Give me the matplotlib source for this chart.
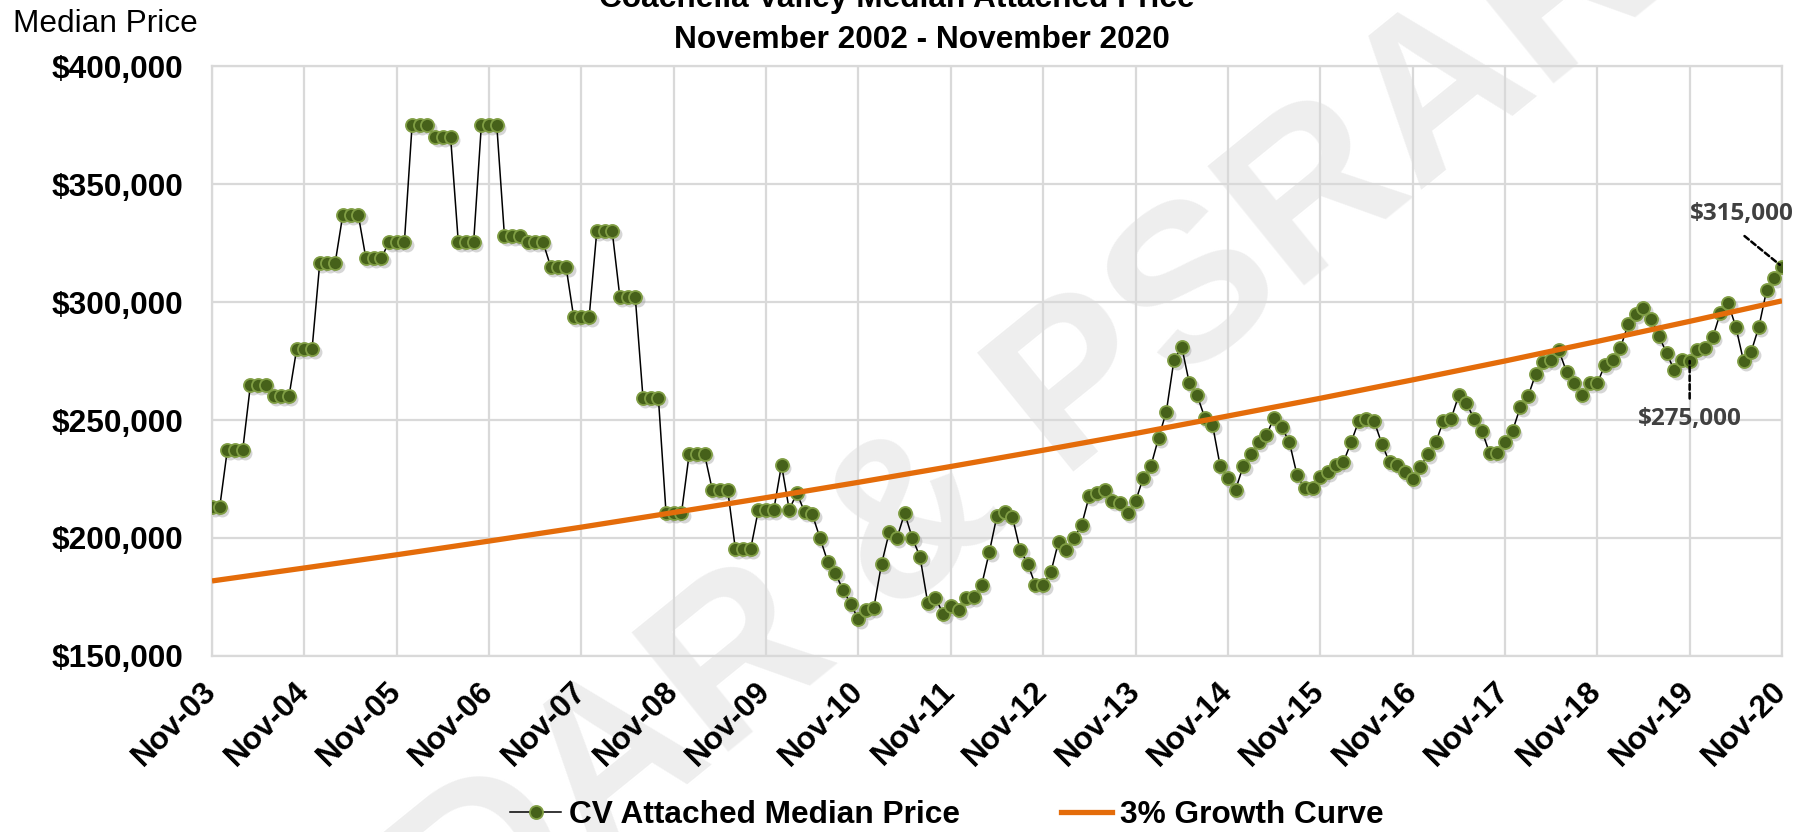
import numpy as np
import matplotlib
matplotlib.use("Agg")
import matplotlib.pyplot as plt
from matplotlib.transforms import offset_copy
from matplotlib.lines import Line2D

plt.rcParams['font.family'] = ['Liberation Sans', 'DejaVu Sans']

# ---------------- data ----------------
tick_labels = ['Nov-03', 'Nov-04', 'Nov-05', 'Nov-06', 'Nov-07', 'Nov-08',
               'Nov-09', 'Nov-10', 'Nov-11', 'Nov-12', 'Nov-13', 'Nov-14',
               'Nov-15', 'Nov-16', 'Nov-17', 'Nov-18', 'Nov-19', 'Nov-20']

# monthly median attached price, Nov-03 .. Nov-20
prices = [
    213000, 213000,
    237500, 237500, 237500,
    265000, 265000, 265000,
    260000, 260000, 260000,
    280000, 280000, 280000,
    316500, 316500, 316500,
    337000, 337000, 337000,
    318500, 318500, 318500,
    325500, 325500, 325500,
    375000, 375000, 375000,
    370000, 370000, 370000,
    325500, 325500, 325500,
    375000, 375000, 375000,
    328000, 328000, 328000,
    325500, 325500, 325500,
    315000, 315000, 315000,
    293500, 293500, 293500,
    330000, 330000, 330000,
    302000, 302000, 302000,
    259500, 259500, 259500,
    210500, 210500, 210500,
    235500, 235500, 235500,
    220500, 220500, 220500,
    195500, 195500, 195500,
    212000, 212000, 212000, 231000, 212000, 219000, 211000, 210000,
    200000, 190000, 185000, 178000, 172000, 165500, 169500, 170500,
    189000, 202500, 200000, 210500, 200000, 192000, 172500, 174500,
    168000, 171000, 169500, 174500, 175000, 180000, 194000, 209500,
    211000, 209000, 195000, 189000, 180000, 180000, 185500, 198500,
    195000, 200000, 205500, 218000, 219000, 220500, 215500, 215000,
    210500, 215500, 225500, 230500, 242500, 253500, 275500, 281000,
    265500, 260500, 251000, 248000, 230500, 225500, 220500, 230500,
    235500, 240500, 243500, 251000, 247000, 240500, 226500, 221000,
    221000, 226000, 228000, 231000, 232000, 240500, 249500, 250500,
    249500, 240000, 232000, 231000, 228000, 225000, 230000, 235500,
    240500, 249500, 250500, 260500, 257000, 250500, 245500, 236000,
    236000, 240500, 245500, 255500, 260000, 269500, 274500, 275500,
    279500, 270500, 265500, 260500, 265500, 265500, 273500, 275500,
    280500, 290500, 295000, 297500, 293000, 285500, 278500, 271000,
    275500, 275000, 279500, 280500, 285000, 295500, 299500, 289500,
    275000, 279000, 289500, 305000, 310000, 315000,
]

# 3% growth curve, value at each November
growth_curve = [181800, 187300, 192900, 198700, 204600, 210800, 217100,
                223600, 230300, 237200, 244300, 251700, 259200, 267000,
                275000, 283300, 291800, 300500]

series_names = ['CV Attached Median Price', '3% Growth Curve']
title_line1 = 'Coachella Valley Median Attached Price'
title_line2 = 'November 2002 - November 2020'
y_label = 'Median Price'
watermark = 'CDAR & PSRAR'
callouts = [('$315,000', 204), ('$275,000', 192)]

# ---------------- figure ----------------
W, H = 1814, 832
fig = plt.figure(figsize=(W / 100, H / 100), dpi=100)
L, R, T, B = 212, 1782, 66, 656
ax = fig.add_axes([L / W, 1 - B / H, (R - L) / W, (B - T) / H])
ax.set_facecolor('none')

months = np.arange(len(prices))
tick_pos = np.arange(len(tick_labels)) * 12
growth_x = np.arange(len(growth_curve)) * 12

grid_c = '#d9d9d9'
ax.set_xlim(tick_pos[0], tick_pos[-1])
ax.set_ylim(150000, 400000)
ax.set_yticks(np.arange(150000, 400001, 50000))
ax.set_yticklabels(['${:,.0f}'.format(v) for v in ax.get_yticks()],
                   fontsize=22.8, fontweight='bold')
ax.set_xticks(tick_pos)
ax.set_xticklabels(tick_labels, fontsize=22.8, fontweight='bold',
                   rotation=45, ha='right', va='center',
                   rotation_mode='anchor')
ax.tick_params(axis='y', length=0, pad=21)
ax.tick_params(axis='x', length=0, pad=22)
ax.grid(True, color=grid_c, lw=1.6, zorder=0)
ax.set_axisbelow(True)
for s in ax.spines.values():
    s.set_color(grid_c)
    s.set_linewidth(1.6)

# watermark
fig.text(968 / W, 1 - 482 / H, watermark, fontsize=160,
         fontweight='bold', color='#d6d6d6', alpha=0.4, rotation=39,
         ha='center', va='center', zorder=-1)

# marker shadows
shadow_tr = offset_copy(ax.transData, fig=fig, x=2.5, y=-3, units='dots')
ax.plot(months, prices, ls='none', marker='o', ms=10, mfc='#8a8a8a',
        mec='none', alpha=0.35, transform=shadow_tr, zorder=2)
# main series
ax.plot(months, prices, color='black', lw=1.1, marker='o', ms=9.4,
        mfc='#46611a', mec='#809e44', mew=1.3, zorder=3,
        label=series_names[0])
# growth curve
ax.plot(growth_x, growth_curve, color='#E46C0A', lw=3.8,
        solid_capstyle='butt', zorder=4, label=series_names[1])

# callouts
ann_font = dict(family=['Open Sans', 'DejaVu Sans'], fontsize=17.5,
                fontweight='bold', color='#404040')
dash = dict(arrowstyle='-', color='black', lw=1.8, linestyle=(0, (2.2, 1.3)),
            shrinkA=0, shrinkB=0)
lbl, idx = callouts[0]
ax.annotate('', xy=(months[idx], prices[idx]), xytext=(-27, 22),
            textcoords='offset points',
            arrowprops=dict(dash, shrinkB=2), annotation_clip=False)
ax.annotate(lbl, xy=(months[idx], prices[idx]), xytext=(-29, 38),
            textcoords='offset points', ha='center', va='center',
            annotation_clip=False, **ann_font)
lbl, idx = callouts[1]
ax.annotate('', xy=(months[idx], prices[idx]), xytext=(0, -27),
            textcoords='offset points',
            arrowprops=dict(dash, shrinkB=0), annotation_clip=False)
ax.annotate(lbl, xy=(months[idx], prices[idx]), xytext=(0, -42),
            textcoords='offset points', ha='center', va='center',
            annotation_clip=False, **ann_font)

# titles
fig.text(897 / W, 1 - 7 / H, title_line1, fontsize=22.8, fontweight='bold',
         ha='center', va='baseline')
fig.text(922 / W, 1 - 48.5 / H, title_line2, fontsize=22.8,
         fontweight='bold', ha='center', va='baseline')
fig.text(13 / W, 1 - 31.5 / H, y_label, fontsize=22.8, ha='left',
         va='baseline')

# legend
handles = [Line2D([], [], color='black', lw=1.1, marker='o', ms=9.4,
                  mfc='#46611a', mec='#809e44', mew=1.3),
           Line2D([], [], color='#E46C0A', lw=3.8)]
fig.legend(handles, series_names, loc='center',
           bbox_to_anchor=(947 / W, 1 - 815 / H), ncol=2, frameon=False,
           handlelength=1.6, handletextpad=0.25, columnspacing=3.2,
           numpoints=1, prop=dict(weight='bold', size=22.8),
           borderaxespad=0, borderpad=0)

fig.savefig('out.png', dpi=100)
